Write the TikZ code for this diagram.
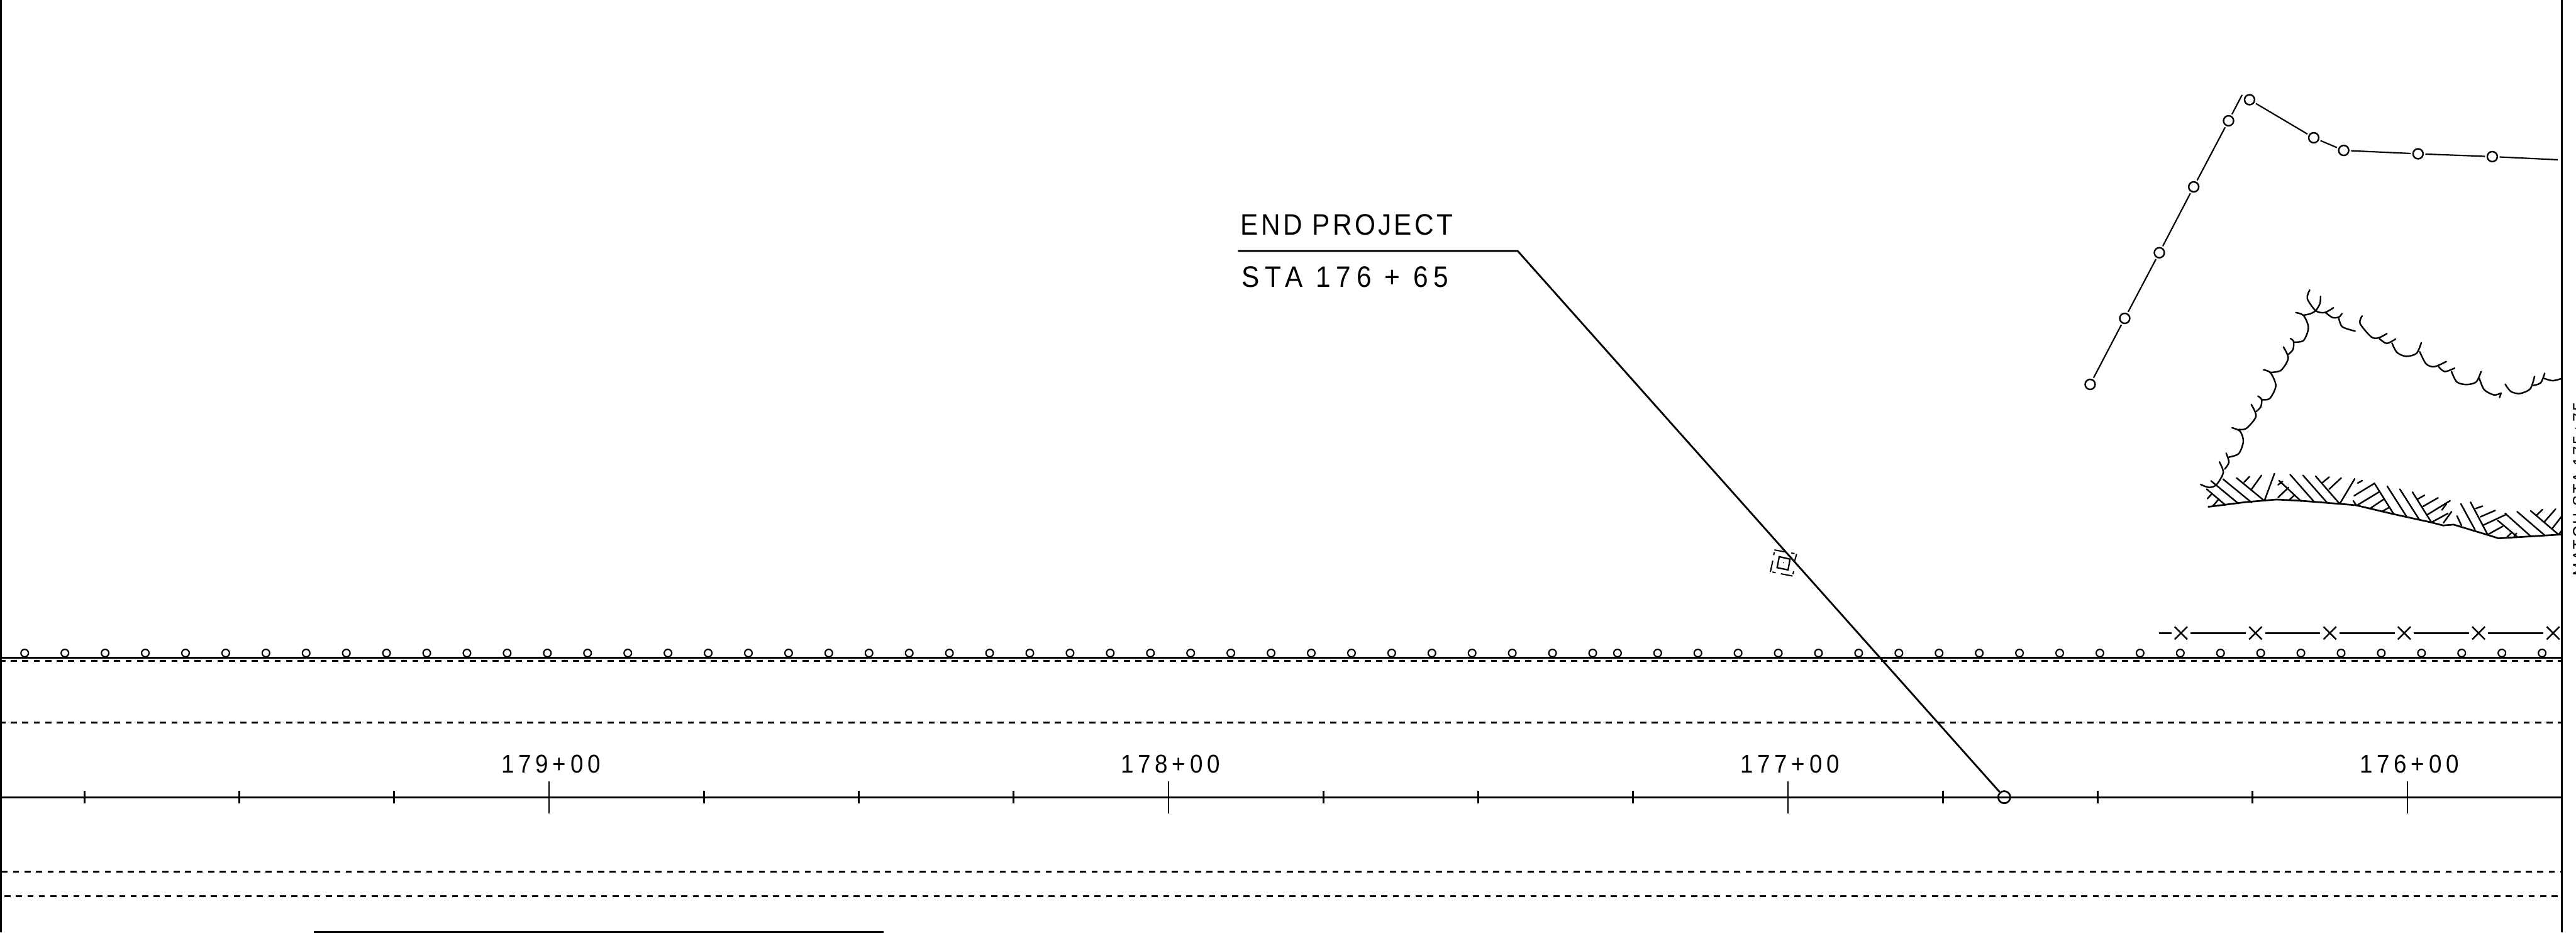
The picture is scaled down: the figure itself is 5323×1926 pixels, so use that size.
\documentclass[tikz,border=0pt]{standalone}
\usepackage{fontspec}
\usetikzlibrary{shapes.misc}
\newfontfamily\cadlarge[FakeStretch=0.9,LetterSpace=9]{Liberation Sans}
\newfontfamily\cadsta[FakeStretch=0.9,LetterSpace=19]{Liberation Sans}
\newfontfamily\cadlabel[FakeStretch=0.9,LetterSpace=16.6]{Liberation Sans}
\newfontfamily\cadedge[FakeStretch=0.9,LetterSpace=12]{Liberation Sans}
\newcommand{\tarc}[1]{\draw[treeline] plot[smooth] coordinates {#1};}
\newcommand{\hatchsegs}[1]{\foreach \ax/\ay/\bx/\by in {#1}{\draw[hatchline] (\ax,\ay) -- (\bx,\by);}}
\tikzset{
  mainline/.style={line width=1.05pt,black},
  thinline/.style={line width=1pt,black},
  dashline/.style={line width=1.05pt,black,dash pattern=on 3.556pt off 3.186pt},
  treeline/.style={line width=0.9pt,black,line cap=round},
  hatchline/.style={line width=0.9pt,black,line cap=round},
  rowcircle/.style={circle,draw,line width=0.8pt,inner sep=0pt,minimum size=4.4pt},
  shotcircle/.style={circle,draw,line width=0.9pt,inner sep=0pt,minimum size=5.9pt},
  fencex/.style={cross out,draw,line width=0.9pt,inner sep=0pt,minimum size=6.6pt},
  endcircle/.style={circle,draw,line width=1pt,inner sep=0pt,minimum size=7.1pt},
  shotlink/.style={line width=0.8pt,black,shorten >=0.9pt,shorten <=0.9pt},
  fencelink/.style={line width=0.9pt,black,shorten >=1.9pt,shorten <=1.9pt},
  textnode/.style={inner sep=0pt,outer sep=0pt,anchor=base west,text=black},
}
\begin{document}
\begin{tikzpicture}[x=0.01cm,y=-0.01cm]
\useasboundingbox (0,0) rectangle (5323,1926);
\clip (0,0) rectangle (5323,1926);
\fill[white] (0,0) rectangle (5323,1926);

% borders
\draw[mainline] (2,0) -- (2,1926);
\draw[mainline] (5294,0) -- (5294,1926);

% long lines
\draw[thinline] (2,1359) -- (5294,1359);
\draw[dashline] (-1.3,1364.7) -- (5294,1364.7);
\draw[dashline] (-1.3,1492.4) -- (5294,1492.4);
\draw[mainline] (2,1646.7) -- (5294,1646.7);
\draw[dashline] (3.3,1800) -- (5294,1800);
\draw[dashline] (9.2,1851.5) -- (5294,1851.5);
\draw[thinline] (648,1925) -- (1826,1925);

% row of circles
\foreach \k in {0,...,39}{\node[rowcircle] (ra\k) at ({51+83.08*\k},1349) {};}
\foreach \k in {0,...,23}{\node[rowcircle] (rb\k) at ({3342.3+83.07*\k},1349) {};}

% stationing ticks
\foreach \k in {0,1,2,4,5,6,8,9,10,12,13,14}{\draw[thinline] ({174.5+320*\k},1633.5) -- ({174.5+320*\k},1660);}
\foreach \k in {3,7,11,15}{\draw[thinline] ({174.5+320*\k},1614.6) -- ({174.5+320*\k},1679.7);}

% station labels
\node[textnode,font=\cadlabel\fontsize{15.1pt}{15.1pt}\selectfont] (s179) at (1036,1597) {179+00};
\node[textnode,font=\cadlabel\fontsize{15.1pt}{15.1pt}\selectfont] (s178) at (2316,1597) {178+00};
\node[textnode,font=\cadlabel\fontsize{15.1pt}{15.1pt}\selectfont] (s177) at (3596,1597) {177+00};
\node[textnode,font=\cadlabel\fontsize{15.1pt}{15.1pt}\selectfont] (s176) at (4876,1597) {176+00};

% end project callout
\node[textnode,font=\cadlarge\fontsize{17.4pt}{17.4pt}\selectfont] (endp) at (2564,486) {END PROJECT};
\node[textnode,font=\cadsta\fontsize{17.4pt}{17.4pt}\selectfont] (endsta) at (2566,592.7) {STA 176 + 65};
\node[endcircle] (endpt) at (4141.5,1646.7) {};
\coordinate (lstart) at (2558,518.3);
\coordinate (lknee) at (3136,518.3);
\draw[mainline] (lstart) -- (lknee) -- (endpt);

% square symbol
\begin{scope}[shift={(3580,1100)},x=0.003333cm,y=-0.003333cm]
  \draw[line width=0.85pt] (290,150) -- (357,165) -- (345,232) -- (277,218) -- cycle;
  \fill (317,188) circle (3.5);
  \foreach \ax/\ay/\bx/\by in {260/108/325/120, 365/127/385/131, 398/133/385/180, 380/240/375/258,
      373/270/300/256, 268/250/248/245, 235/245/250/175, 255/140/260/122}
    {\draw[line width=0.75pt] (\ax,\ay) -- (\bx,\by);}
\end{scope}

% upper line of shots
\node[shotcircle] (p1) at (4319,794) {};
\node[shotcircle] (p2) at (4390.5,657.6) {};
\node[shotcircle] (p3) at (4462,522) {};
\node[shotcircle] (p4) at (4533,386) {};
\node[shotcircle] (p5) at (4605,249.5) {};
\node[shotcircle] (p6) at (4648.4,206) {};
\node[shotcircle] (p7) at (4781,284.6) {};
\node[shotcircle] (p8) at (4843,310.7) {};
\node[shotcircle] (p9) at (4996.6,317.7) {};
\node[shotcircle] (p10) at (5150,323.5) {};
\coordinate (pk) at (4633,196);
\coordinate (pe) at (5285,330);
\draw[shotlink] (p1) -- (p2);
\draw[shotlink] (p2) -- (p3);
\draw[shotlink] (p3) -- (p4);
\draw[shotlink] (p4) -- (p5);
\draw[shotlink,shorten >=0pt] (p5) -- (pk);
\draw[shotlink] (p6) -- (p7);
\draw[shotlink] (p7) -- (p8);
\draw[shotlink] (p8) -- (p9);
\draw[shotlink] (p9) -- (p10);
\draw[shotlink,shorten >=0pt] (p10) -- (pe);

% tree line
\tarc{(4547.4,1000.7) (4564.2,1006.8) (4579.7,1001.4) (4594,976.4) (4586,954)}
\tarc{(4597,969) (4605.7,955) (4600,936)}
\tarc{(4605.7,944.3) (4626,937) (4635.5,912) (4629,891) (4612,883.6)}
\tarc{(4626,887) (4641.7,885) (4661.7,860) (4652,835.7)}
\tarc{(4662.3,850) (4671.7,840) (4673.3,825) (4665.7,818.3)}
\tarc{(4673.3,825.3) (4690,823.3) (4702.7,796.7) (4691.7,770) (4677.3,764)}
\tarc{(4690.7,769.3) (4713.3,765) (4728.3,740) (4718.3,716.7)}
\tarc{(4729,731.7) (4738.3,721.7) (4739.3,705) (4732.7,699.3)}
\tarc{(4739.3,706.7) (4760,703.3) (4770,676.7) (4760,651.7) (4744,645.7)}
\tarc{(4760,651) (4773.3,648.3) (4785,641.7) (4794,626.7) (4795,612.3)}
\tarc{(4772.7,599) (4767.7,616.7) (4785,641.7) (4803.3,645.7) (4821.7,635.7)}
\tarc{(4806,646) (4820,656) (4833,655) (4839.3,647.7)}
\tarc{(4832.7,656.7) (4840,675) (4866.7,684)}
\tarc{(4881,652.7) (4876.7,668.3) (4900,696) (4915,697.9) (4932.3,689)}
\tarc{(4916.7,699.6) (4931.7,709.3) (4950,700.4)}
\tarc{(4942.7,708.6) (4953,728) (4971.7,736) (4993.3,730) (5003.3,707.9)}
\tarc{(5000,726.4) (5013,751.4) (5030,757.5) (5055,746.8)}
\tarc{(5039,757.5) (5051.7,767.5) (5072.3,760.4)}
\tarc{(5065.7,767.5) (5076.7,789) (5096.7,794.3) (5116.7,789) (5126.7,767.5)}
\tarc{(5123.3,781.8) (5133.3,805) (5153.3,815.7) (5168.3,812)}
\draw[treeline] (5165,821) -- (5168.3,812);
\tarc{(5176.7,793.6) (5188.3,808.6) (5206.7,812.9) (5228.3,803.2) (5237.3,777.5)}
\tarc{(5235,796) (5250,790.7) (5258.3,771)}
\tarc{(5257.3,781.8) (5275,786.4) (5293.3,781.8)}

% hatched ground edge
\draw[line width=1pt,line join=round] (4562.3,1047) -- (4641.7,1037) -- (4703.8,1031.8) -- (4753.5,1034.3) -- (4834,1040.7) -- (4868.3,1043.6) -- (4946,1062) -- (5023.5,1079) -- (5048.3,1085.4) -- (5070,1083.6) -- (5138.3,1104.3) -- (5163,1112) -- (5293.5,1104);
\begin{scope}[shift={(4350,580)},x=0.006207cm,y=-0.003571cm]
\hatchsegs{338/1205/400/1297, 352/1157/443/1288, 392/1147/487/1282, 437/1140/530/1273,
  340/1260/353/1235, 358/1303/378/1262,
  462/1165/480/1132, 487/1205/520/1125, 530/1270/563/1115,
  578/1155/652/1275, 615/1120/695/1278, 658/1125/738/1283, 700/1130/780/1290,
  575/1180/590/1160, 575/1253/610/1195, 612/1268/630/1238,
  722/1168/745/1135, 745/1205/785/1140, 780/1290/830/1145,
  840/1170/855/1155, 825/1272/835/1298,
  828/1243/895/1172, 838/1298/912/1220, 880/1318/925/1265, 920/1335/945/1310,
  895/1170/960/1350, 938/1188/1003/1365, 980/1205/1045/1382, 1022/1222/1085/1397,
  1040/1262/1062/1240, 1057/1305/1107/1255, 1072/1352/1147/1272,
  1120/1325/1135/1290, 1085/1397/1140/1345, 1125/1400/1152/1335,
  1170/1360/1185/1415, 1183/1290/1230/1440, 1215/1280/1272/1468,
  1232/1317/1255/1303, 1248/1365/1297/1328, 1255/1415/1335/1350, 1272/1468/1322/1420,
  1305/1385/1370/1480, 1330/1345/1415/1477, 1370/1335/1462/1472, 1415/1330/1508/1468,
  1435/1355/1455/1322, 1460/1395/1498/1320, 1488/1430/1520/1358, 1508/1468/1520/1440,
  1335/1485/1352/1455, 1360/1478/1368/1460}
\end{scope}

% fence
\coordinate (fs) at (4461.7,1307.7);
\node[fencex] (f1) at (4506.7,1307.7) {};
\node[fencex] (f2) at (4660.7,1307.7) {};
\node[fencex] (f3) at (4814.3,1307.7) {};
\node[fencex] (f4) at (4968,1307.7) {};
\node[fencex] (f5) at (5121.7,1307.7) {};
\node[fencex] (f6) at (5275.7,1307.7) {};
\draw[fencelink,shorten <=0pt] (fs) -- (f1);
\draw[fencelink] (f1) -- (f2);
\draw[fencelink] (f2) -- (f3);
\draw[fencelink] (f3) -- (f4);
\draw[fencelink] (f4) -- (f5);
\draw[fencelink] (f5) -- (f6);

% match line text, cut by the sheet edge
\node[textnode,rotate=90,font=\cadedge\fontsize{10.3pt}{10.3pt}\selectfont] (match) at (5342,1190) {MATCH STA 175+75};
\end{tikzpicture}
\end{document}
